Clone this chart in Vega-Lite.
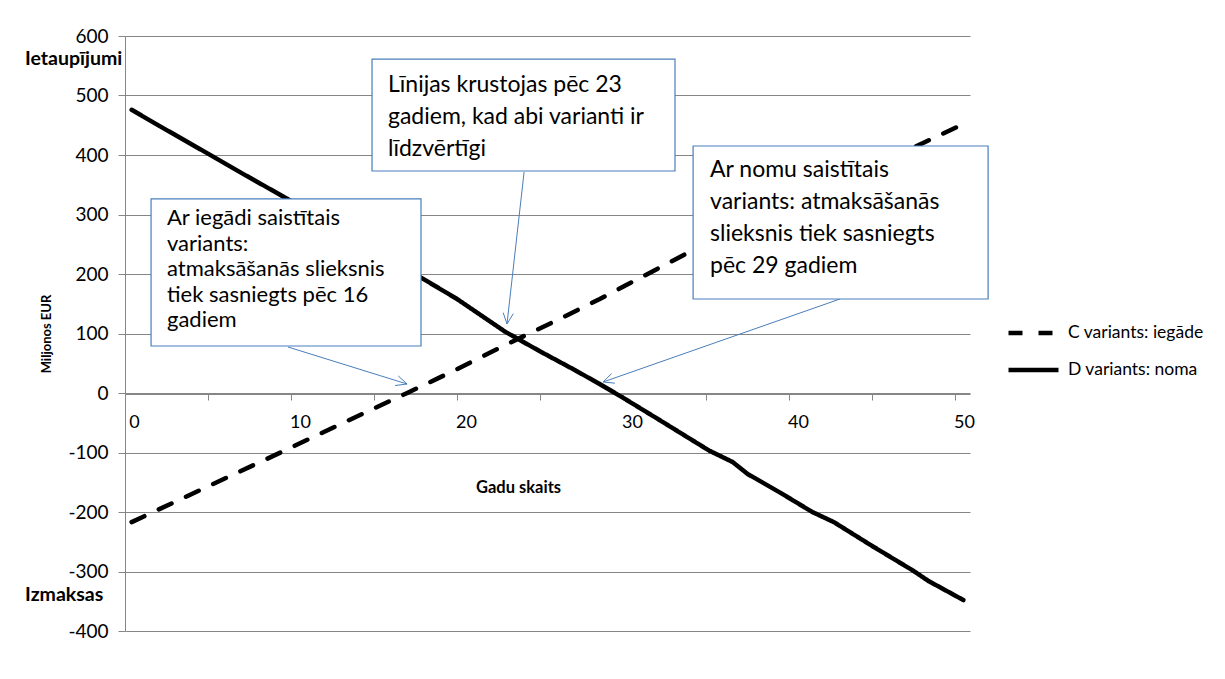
{
  "$schema": "https://vega.github.io/schema/vega-lite/v6.json",
  "width": 845,
  "height": 595,
  "autosize": {"type": "none"},
  "padding": {"left": 125, "top": 36, "right": 255, "bottom": 48},
  "background": "white",
  "config": {"font": "Lato", "view": {"stroke": null}},
  "datasets": {
    "series": [
      {"s": "C variants: iegāde", "x": 0.4, "y": -217},
      {"s": "C variants: iegāde", "x": 5, "y": -157},
      {"s": "C variants: iegāde", "x": 9.6, "y": -97},
      {"s": "C variants: iegāde", "x": 13, "y": -52},
      {"s": "C variants: iegāde", "x": 17, "y": 0},
      {"s": "C variants: iegāde", "x": 20, "y": 40},
      {"s": "C variants: iegāde", "x": 23, "y": 82},
      {"s": "C variants: iegāde", "x": 26, "y": 122},
      {"s": "C variants: iegāde", "x": 28.6, "y": 158},
      {"s": "C variants: iegāde", "x": 34, "y": 237},
      {"s": "C variants: iegāde", "x": 38, "y": 290},
      {"s": "C variants: iegāde", "x": 42, "y": 342},
      {"s": "C variants: iegāde", "x": 46, "y": 393},
      {"s": "C variants: iegāde", "x": 48.2, "y": 422},
      {"s": "C variants: iegāde", "x": 50.5, "y": 452},
      {"s": "D variants: noma", "x": 0.4, "y": 476},
      {"s": "D variants: noma", "x": 2, "y": 450},
      {"s": "D variants: noma", "x": 4.7, "y": 407},
      {"s": "D variants: noma", "x": 7, "y": 370},
      {"s": "D variants: noma", "x": 9.8, "y": 326},
      {"s": "D variants: noma", "x": 12, "y": 290},
      {"s": "D variants: noma", "x": 14, "y": 258},
      {"s": "D variants: noma", "x": 17.95, "y": 192},
      {"s": "D variants: noma", "x": 20, "y": 158},
      {"s": "D variants: noma", "x": 22.9, "y": 103},
      {"s": "D variants: noma", "x": 25, "y": 70},
      {"s": "D variants: noma", "x": 27, "y": 40},
      {"s": "D variants: noma", "x": 28.6, "y": 15},
      {"s": "D variants: noma", "x": 30, "y": -8},
      {"s": "D variants: noma", "x": 32, "y": -42},
      {"s": "D variants: noma", "x": 35.2, "y": -97},
      {"s": "D variants: noma", "x": 36.6, "y": -116},
      {"s": "D variants: noma", "x": 37.5, "y": -136},
      {"s": "D variants: noma", "x": 39.5, "y": -168},
      {"s": "D variants: noma", "x": 41.4, "y": -200},
      {"s": "D variants: noma", "x": 42.7, "y": -217},
      {"s": "D variants: noma", "x": 45, "y": -257},
      {"s": "D variants: noma", "x": 47.5, "y": -299},
      {"s": "D variants: noma", "x": 48.4, "y": -316},
      {"s": "D variants: noma", "x": 50.5, "y": -348}
    ],
    "boxes": [
      {"id": 1, "x": 14.88, "y": 561.3, "x2": 33.13, "y2": 373.1},
      {"id": 2, "x": 34.22, "y": 415.1, "x2": 51.99, "y2": 158.0},
      {"id": 3, "x": 1.57, "y": 326.1, "x2": 17.83, "y2": 79.0}
    ],
    "arrows": [
      {"x": 24.04, "y": 371.4, "x2": 23.01, "y2": 116.0},
      {"x": 23.39, "y": 133.3, "x2": 23.01, "y2": 116.0},
      {"x": 22.78, "y": 135.0, "x2": 23.01, "y2": 116.0},
      {"x": 43.07, "y": 158.0, "x2": 28.80, "y2": 18.5},
      {"x": 29.51, "y": 16.5, "x2": 28.80, "y2": 18.5},
      {"x": 29.31, "y": 32.6, "x2": 28.80, "y2": 18.5},
      {"x": 9.82, "y": 77.3, "x2": 16.99, "y2": 15.1},
      {"x": 16.46, "y": 28.7, "x2": 16.99, "y2": 15.1},
      {"x": 16.27, "y": 12.6, "x2": 16.99, "y2": 15.1}
    ],
    "notes": [
      {"box": 1, "x": 15.84, "y": 505.9, "text": "Līnijas krustojas pēc 23\ngadiem, kad abi varianti ir\nlīdzvērtīgi"},
      {"box": 2, "x": 35.24, "y": 363.0, "text": "Ar nomu  saistītais\nvariants: atmaksāšanās\nslieksnis tiek sasniegts\npēc 29 gadiem"},
      {"box": 3, "x": 2.53, "y": 282.0, "text": "Ar iegādi saistītais\nvariants:\natmaksāšanās slieksnis\ntiek sasniegts pēc 16\ngadiem"}
    ],
    "side": [
      {"x": -6.02, "y": 562, "text": "Ietaupījumi"},
      {"x": -6.02, "y": -339, "text": "Izmaksas"}
    ]
  },
  "encoding": {
    "x": {
      "field": "x",
      "type": "quantitative",
      "scale": {"domain": [0, 50.9], "nice": false, "zero": false},
      "axis": {
        "values": [0, 5, 10, 15, 20, 25, 30, 35, 40, 45, 50],
        "labelExpr": "datum.value % 10 === 0 ? datum.label : ''",
        "offset": -237,
        "grid": false,
        "domainColor": "#868686",
        "tickColor": "#868686",
        "tickSize": 6,
        "labelFontSize": 18,
        "labelColor": "black",
        "labelPadding": 13,
        "labelOffset": 9,
        "labelFlush": false,
        "labelOverlap": false,
        "title": "Gadu skaits",
        "titleFontSize": 16.5,
        "titleFontWeight": "bold",
        "titleColor": "black",
        "titleX": 393,
        "titleY": 93,
        "titleBaseline": "middle",
        "titleAlign": "center",
        "titleAnchor": null
      }
    },
    "y": {
      "field": "y",
      "type": "quantitative",
      "scale": {"domain": [-400, 600], "nice": false, "zero": false},
      "axis": {
        "values": [-400, -300, -200, -100, 0, 100, 200, 300, 400, 500, 600],
        "labelExpr": "(datum.value < 0 ? '-' : '') + abs(datum.value)",
        "grid": true,
        "gridColor": "#868686",
        "gridWidth": 1,
        "domainColor": "#868686",
        "tickColor": "#868686",
        "tickSize": 7,
        "labelFontSize": 19,
        "labelColor": "black",
        "labelPadding": 10,
        "labelFlush": false,
        "labelOverlap": false,
        "title": "Miljonos EUR",
        "titleFontSize": 13,
        "titleFontWeight": "bold",
        "titleColor": "black",
        "titlePadding": 14
      }
    }
  },
  "layer": [
    {
      "data": {"name": "series"},
      "mark": {"type": "line", "color": "black", "strokeWidth": 4.5, "strokeCap": "round"},
      "encoding": {
        "strokeDash": {
          "field": "s",
          "type": "nominal",
          "scale": {"domain": ["C variants: iegāde", "D variants: noma"], "range": [[14, 16], [1, 0]]},
          "legend": {
            "title": null,
            "orient": "none",
            "legendX": 881,
            "legendY": 282,
            "symbolType": "stroke",
            "symbolSize": 2500,
            "symbolStrokeWidth": 4.5,
            "symbolStrokeColor": "black",
            "labelFontSize": 17.5,
            "labelColor": "black",
            "labelOffset": 7,
            "clipHeight": 30,
            "rowPadding": 7,
            "padding": 0
          }
        }
      }
    },
    {
      "data": {"name": "arrows"},
      "mark": {"type": "rule", "color": "#4A7EBB", "strokeWidth": 1},
      "encoding": {
        "x2": {"field": "x2"},
        "y2": {"field": "y2"}
      }
    },
    {
      "data": {"name": "boxes"},
      "mark": {"type": "rect", "fill": "white", "stroke": "#4A7EBB", "strokeWidth": 1.2},
      "encoding": {
        "x2": {"field": "x2"},
        "y2": {"field": "y2"}
      }
    },
    {
      "data": {"name": "notes"},
      "transform": [{"filter": "datum.box != 3"}],
      "mark": {"type": "text", "align": "left", "baseline": "alphabetic", "fontSize": 23, "lineBreak": "\n", "lineHeight": 32, "color": "black"},
      "encoding": {"text": {"field": "text"}}
    },
    {
      "data": {"name": "notes"},
      "transform": [{"filter": "datum.box == 3"}],
      "mark": {"type": "text", "align": "left", "baseline": "alphabetic", "fontSize": 22, "lineBreak": "\n", "lineHeight": 25.5, "color": "black"},
      "encoding": {"text": {"field": "text"}}
    },
    {
      "data": {"name": "side"},
      "mark": {"type": "text", "align": "left", "baseline": "middle", "fontSize": 19.5, "fontWeight": "bold", "color": "black"},
      "encoding": {"text": {"field": "text"}}
    }
  ]
}
